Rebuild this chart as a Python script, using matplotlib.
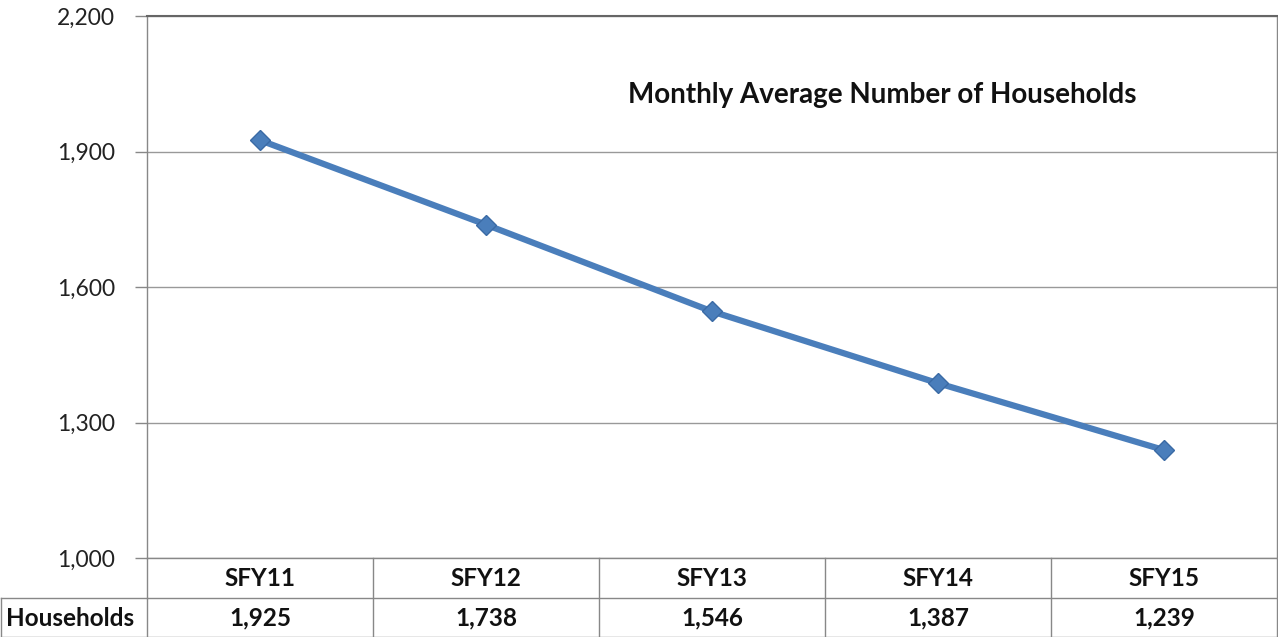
import matplotlib.pyplot as plt
import matplotlib.transforms as mtransforms

plt.rcParams['font.family'] = ['Lato', 'DejaVu Sans']

# data
years = ['SFY11', 'SFY12', 'SFY13', 'SFY14', 'SFY15']
households = [1925, 1738, 1546, 1387, 1239]
row_label = 'Households'
yticks = [1000, 1300, 1600, 1900, 2200]

W, H = 1278, 637
fig = plt.figure(figsize=(W / 100, H / 100), dpi=100)
ax = fig.add_axes([147 / W, (H - 558) / H, 1130 / W, 542 / H])

xs = list(range(len(years)))
ax.plot(xs, households, color='#4a7ebb', lw=4.5, marker='D', ms=10.5,
        markerfacecolor='#4a7ebb', markeredgecolor='#3a6aa5', zorder=3)

ax.set_xlim(-0.5, len(years) - 0.5)
ax.set_ylim(1000, 2200)
ax.set_yticks(yticks)
ax.set_yticklabels([f'{v:,}' for v in yticks], fontsize=16.5, color='#222222')
ax.set_xticks([])
ax.tick_params(axis='y', length=9, width=1, color='#888888', pad=14)
ax.yaxis.grid(True, color='#999999', lw=1)
for s in ax.spines.values():
    s.set_color('#888888')
    s.set_linewidth(1)
ax.spines['top'].set_color('#666666')
ax.spines['top'].set_linewidth(1.5)

ax.text(0.651, 0.855, 'Monthly Average Number of Households', transform=ax.transAxes,
        ha='center', va='center', fontsize=20, fontweight='bold', color='#111111')

# table below the plot
rh = 40 / 542
trans = mtransforms.blended_transform_factory(ax.transData, ax.transAxes)
lc = '#888888'
left_lbl = -0.5 - 146 / 226
for i in range(len(years) + 1):
    x = i - 0.5
    ax.plot([x, x], [0, -2 * rh], transform=trans, color=lc, lw=1, clip_on=False)
ax.plot([-0.5, len(years) - 0.5], [-rh, -rh], transform=trans, color=lc, lw=1, clip_on=False)
ax.plot([left_lbl, len(years) - 0.5], [-2 * rh + 0.002, -2 * rh + 0.002], transform=trans,
        color=lc, lw=1, clip_on=False)
ax.plot([left_lbl, -0.5], [-rh, -rh], transform=trans, color=lc, lw=1, clip_on=False)
ax.plot([left_lbl, left_lbl], [-rh, -2 * rh], transform=trans, color=lc, lw=1, clip_on=False)

for i, (yr, v) in enumerate(zip(years, households)):
    ax.text(i, -0.5 * rh, yr, transform=trans, ha='center', va='center',
            fontsize=17.5, fontweight='bold', color='#111111')
    ax.text(i, -1.5 * rh, f'{v:,}', transform=trans, ha='center', va='center',
            fontsize=17.5, fontweight='bold', color='#111111')
ax.text(left_lbl + 0.02, -1.5 * rh, row_label, transform=trans, ha='left', va='center',
        fontsize=17.5, fontweight='bold', color='#111111')

fig.savefig('out.png', dpi=100)
